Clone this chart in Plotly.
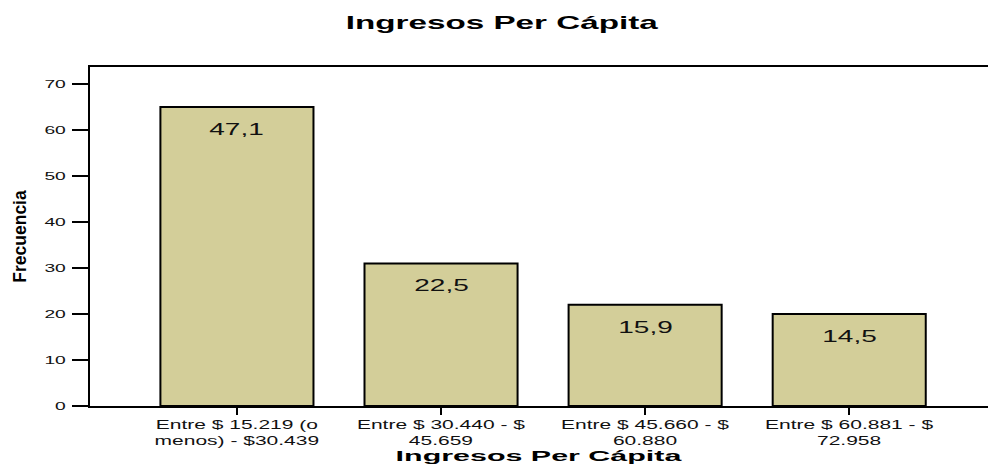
import plotly.graph_objects as go

categories = ["Entre $ 15.219 (o<br>menos) - $30.439",
              "Entre $ 30.440 - $<br>45.659",
              "Entre $ 45.660 - $<br>60.880",
              "Entre $ 60.881 - $<br>72.958"]
frecuencia = [65, 31, 22, 20]
porcentaje = ["47,1", "22,5", "15,9", "14,5"]
y_ticks = [0, 10, 20, 30, 40, 50, 60, 70]

FONT = "Liberation Sans, Arial, sans-serif"

fig = go.Figure()
fig.add_trace(go.Bar(
    x=categories, y=frecuencia,
    width=0.75,
    marker=dict(color="#D3CE99", line=dict(color="black", width=2)),
    hoverinfo="skip",
))
for c, v, p in zip(categories, frecuencia, porcentaje):
    fig.add_annotation(x=c, y=v, text=p, showarrow=False, yanchor="top", yshift=-12,
                       font=dict(family=FONT, size=16, color="#111"))

fig.update_layout(
    width=988, height=464,
    margin=dict(l=90, r=0, t=67, b=55),
    paper_bgcolor="white", plot_bgcolor="white",
    showlegend=False,
    title=dict(text="<b>Ingresos Per Cápita</b>", x=0.508, xanchor="center", y=0.952, yanchor="middle",
               font=dict(family=FONT, size=19, color="black")),
    font=dict(family=FONT, color="black"),
)
fig.update_xaxes(
    range=[-0.72, 3.68],
    showline=True, linecolor="black", linewidth=2, mirror=True,
    ticks="outside", ticklen=7, tickwidth=2, tickcolor="black",
    tickfont=dict(size=12, color="#111"),
    title=dict(text="<b>Ingresos Per Cápita</b>", standoff=6,
               font=dict(family=FONT, size=14.5, color="black")),
    showgrid=False,
)
fig.update_yaxes(
    range=[0, 73.7],
    tickvals=y_ticks,
    showline=True, linecolor="black", linewidth=2,
    ticks="outside", ticklen=16, tickwidth=1.5, tickcolor="black",
    ticklabelstandoff=4,
    tickfont=dict(size=11, color="#111"),
    title=dict(text="<b>Frecuencia</b>", standoff=22,
               font=dict(family=FONT, size=17.5, color="black")),
    showgrid=False, zeroline=False,
)

# The reference text is rendered horizontally stretched; reproduce it with an SVG transform.
post_js = """
var gd = document.getElementById('{plot_id}');
gd.querySelectorAll('.main-svg text').forEach(function(t){
  if (t.classList.contains('ytitle')) return;
  var bb = t.getBBox();
  if (!bb || bb.width === 0) return;
  var sc = t.classList.contains('xtitle') ? 2.1 : 1.75;
  var tr = t.getAttribute('transform') || '';
  var a = t.getAttribute('text-anchor') || 'start';
  var cx = a === 'middle' ? bb.x + bb.width / 2 : (a === 'end' ? bb.x + bb.width : bb.x);
  t.setAttribute('transform', tr + ' translate(' + cx + ',0) scale(' + sc + ',1) translate(' + (-cx) + ',0)');
});
"""
fig.write_html("out.html", post_script=post_js)
